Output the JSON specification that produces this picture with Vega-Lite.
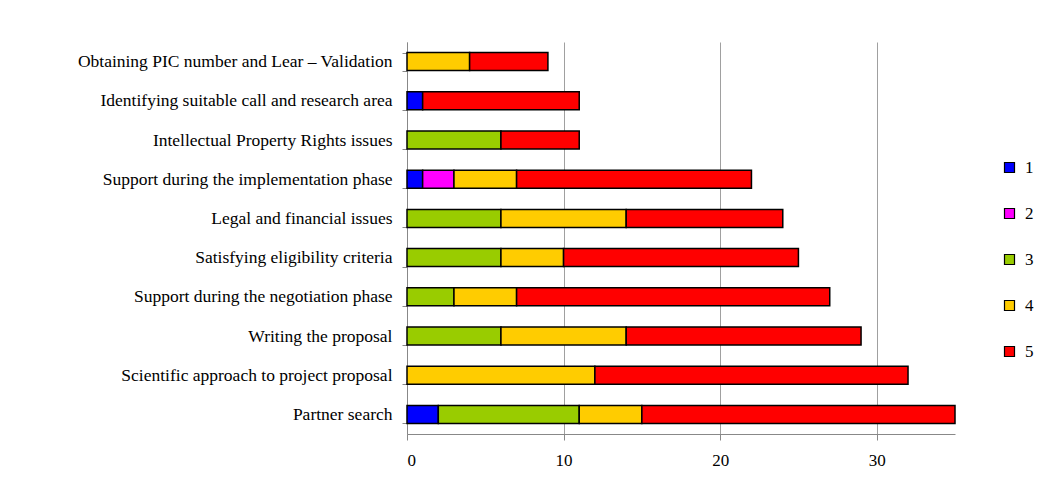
{
  "$schema": "https://vega.github.io/schema/vega-lite/v6.json",
  "width": 548,
  "height": 392,
  "autosize": "none",
  "padding": {"left": 407, "top": 42, "right": 99, "bottom": 46},
  "background": "white",
  "config": {
    "view": {"stroke": null},
    "font": "Liberation Serif",
    "axis": {"labelFont": "Liberation Serif"},
    "legend": {"labelFont": "Liberation Serif"}
  },
  "data": {
    "values": [
      {"task": "Obtaining PIC number and  Lear – Validation", "score": "4", "count": 4},
      {"task": "Obtaining PIC number and  Lear – Validation", "score": "5", "count": 5},
      {"task": "Identifying suitable call and research area", "score": "1", "count": 1},
      {"task": "Identifying suitable call and research area", "score": "5", "count": 10},
      {"task": "Intellectual Property Rights issues", "score": "3", "count": 6},
      {"task": "Intellectual Property Rights issues", "score": "5", "count": 5},
      {"task": "Support during the implementation phase", "score": "1", "count": 1},
      {"task": "Support during the implementation phase", "score": "2", "count": 2},
      {"task": "Support during the implementation phase", "score": "4", "count": 4},
      {"task": "Support during the implementation phase", "score": "5", "count": 15},
      {"task": "Legal and financial issues", "score": "3", "count": 6},
      {"task": "Legal and financial issues", "score": "4", "count": 8},
      {"task": "Legal and financial issues", "score": "5", "count": 10},
      {"task": "Satisfying eligibility criteria", "score": "3", "count": 6},
      {"task": "Satisfying eligibility criteria", "score": "4", "count": 4},
      {"task": "Satisfying eligibility criteria", "score": "5", "count": 15},
      {"task": "Support during the negotiation phase", "score": "3", "count": 3},
      {"task": "Support during the negotiation phase", "score": "4", "count": 4},
      {"task": "Support during the negotiation phase", "score": "5", "count": 20},
      {"task": "Writing the proposal", "score": "3", "count": 6},
      {"task": "Writing the proposal", "score": "4", "count": 8},
      {"task": "Writing the proposal", "score": "5", "count": 15},
      {"task": "Scientific approach to project proposal", "score": "4", "count": 12},
      {"task": "Scientific approach to project proposal", "score": "5", "count": 20},
      {"task": "Partner search", "score": "1", "count": 2},
      {"task": "Partner search", "score": "3", "count": 9},
      {"task": "Partner search", "score": "4", "count": 4},
      {"task": "Partner search", "score": "5", "count": 20}
    ]
  },
  "mark": {"type": "bar", "stroke": "black", "strokeWidth": 1.5},
  "encoding": {
    "y": {
      "field": "task",
      "type": "nominal",
      "sort": null,
      "title": null,
      "scale": {"paddingInner": 0.54, "paddingOuter": 0.27},
      "axis": {
        "tickBand": "extent",
        "tickSize": 5,
        "tickColor": "#888888",
        "domainColor": "#888888",
        "labelFont": "Liberation Serif",
        "labelFontSize": 17.5,
        "labelColor": "black",
        "labelPadding": 10,
        "labelLimit": 420
      }
    },
    "x": {
      "field": "count",
      "type": "quantitative",
      "stack": "zero",
      "title": null,
      "scale": {"domain": [0, 35], "nice": false},
      "axis": {
        "values": [0, 10, 20, 30],
        "grid": true,
        "gridColor": "#a0a0a0",
        "gridWidth": 1,
        "tickSize": 6,
        "tickColor": "#888888",
        "domainColor": "#888888",
        "labelFont": "Liberation Serif",
        "labelFontSize": 17,
        "labelColor": "black",
        "labelPadding": 12
      }
    },
    "order": {"field": "score", "type": "ordinal"},
    "color": {
      "field": "score",
      "type": "nominal",
      "title": null,
      "scale": {
        "domain": ["1", "2", "3", "4", "5"],
        "range": ["#0000FF", "#FF00FF", "#99CC00", "#FFCC00", "#FF0000"]
      },
      "legend": {
        "orient": "none",
        "legendX": 594,
        "legendY": 117,
        "symbolType": "square",
        "symbolSize": 100,
        "symbolStrokeColor": "black",
        "symbolStrokeWidth": 1.2,
        "labelFont": "Liberation Serif",
        "labelFontSize": 17,
        "labelColor": "black",
        "rowPadding": 28,
        "labelOffset": 7
      }
    }
  }
}
